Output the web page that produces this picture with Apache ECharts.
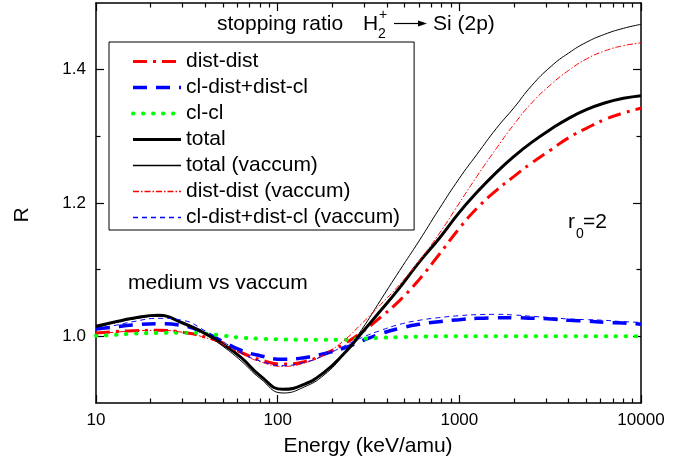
<!DOCTYPE html>
<html>
<head>
<meta charset="utf-8">
<script src="https://cdn.jsdelivr.net/npm/echarts@6/dist/echarts.min.js"></script>
<style>html,body{margin:0;padding:0;background:#fff;}#c{width:687px;height:468px;}</style>
</head>
<body>
<div id="c"></div>
<script>
// ---- data ----
const energy      = [10,12.5,16,22,30,40,50,63,80,107, 140,180,230,290,370,470,600,770, 1000,1250,1600,2000,2500,3200,4000,5000,6300,8000,10000];
const distDist    = [1.005,1.007,1.0085,1.009,1.006,0.999,0.990,0.976,0.965,0.9585, 0.962,0.973,0.988,1.006,1.029,1.054,1.085,1.122, 1.162,1.192,1.219,1.240,1.260,1.280,1.298,1.312,1.325,1.335,1.342];
const clDist      = [1.011,1.014,1.017,1.019,1.016,1.005,0.992,0.979,0.971,0.9655, 0.968,0.974,0.982,0.993,1.004,1.012,1.018,1.022, 1.025,1.027,1.0278,1.028,1.0272,1.026,1.024,1.023,1.021,1.020,1.018];
const clCl        = [1.001,1.002,1.004,1.005,1.0055,1.004,1.001,0.998,0.9965,0.9955, 0.995,0.995,0.995,0.9963,0.9978,0.9988,0.9995,1.0, 1.0,1.0,1.0,1.0,1.0,1.0,1.0,1.0,1.0,1.0,1.0];
const total       = [1.015,1.021,1.027,1.0315,1.020,1.004,0.988,0.968,0.941,0.9205, 0.928,0.946,0.973,1.005,1.039,1.073,1.111,1.146, 1.186,1.216,1.246,1.270,1.291,1.311,1.327,1.340,1.350,1.357,1.361];
const totalVac    = [1.013,1.020,1.026,1.030,1.021,1.003,0.985,0.963,0.937,0.915, 0.924,0.942,0.972,1.010,1.055,1.099,1.143,1.190, 1.237,1.273,1.312,1.343,1.376,1.405,1.425,1.441,1.453,1.462,1.468];
const distDistVac = [1.004,1.006,1.008,1.009,1.006,0.998,0.988,0.974,0.962,0.955, 0.960,0.973,0.993,1.019,1.048,1.078,1.113,1.153, 1.200,1.240,1.282,1.318,1.350,1.378,1.399,1.416,1.428,1.436,1.440];
const clDistVac   = [1.012,1.016,1.022,1.027,1.024,1.008,0.992,0.975,0.963,0.956, 0.961,0.971,0.985,0.998,1.009,1.018,1.024,1.028, 1.031,1.0325,1.033,1.032,1.030,1.028,1.026,1.025,1.024,1.022,1.021];

const xMinorTicks = [20,30,40,50,60,70,80,90,200,300,400,500,600,700,800,900,2000,3000,4000,5000,6000,7000,8000,9000];
const yMajorTicks = [1.0,1.2,1.4];
const yMinorTicks = [1.1,1.3];

const FONT = '"Liberation Sans", Arial, sans-serif';

function pairs(ys){ return energy.map((e,i)=>[e, ys[i]]); }

const seriesDefs = [
  {name:'dist-dist', data:distDist, color:'#ff0000', width:3, type:[14,6,3,6]},
  {name:'cl-dist+dist-cl', data:clDist, color:'#0000ff', width:3.5, type:[14,9]},
  {name:'cl-cl', data:clCl, color:'#00ff00', width:4, type:[0.5,9.5], cap:'round'},
  {name:'total', data:total, color:'#000000', width:3, type:'solid'},
  {name:'total (vaccum)', data:totalVac, color:'#000000', width:1, type:'solid'},
  {name:'dist-dist (vaccum)', data:distDistVac, color:'#ff0000', width:1, type:[6,2,1.5,2]},
  {name:'cl-dist+dist-cl (vaccum)', data:clDistVac, color:'#0000ff', width:1, type:[5,4]}
];

const chart = echarts.init(document.getElementById('c'), null, {renderer:'canvas'});

const axisLineStyle = {color:'#000', width:1.5};
const tickStyle = {color:'#000', width:1.2};
const xMinorLog = xMinorTicks.map(v=>Math.log10(v));

const option = {
  animation:false,
  grid: {left:96, top:3, width:545, height:400, containLabel:false},
  xAxis: [
    {type:'log', logBase:10, min:10, max:10000, position:'bottom',
     axisLine:{show:true, lineStyle:axisLineStyle},
     axisTick:{show:true, inside:true, length:8, lineStyle:tickStyle},
     axisLabel:{show:true, margin:9, fontSize:17, fontFamily:FONT, color:'#000', formatter:v=>String(Math.round(v))},
     splitLine:{show:false}, minorTick:{show:false}},
    {type:'value', min:1, max:4, position:'bottom',
     axisLine:{show:false},
     axisTick:{show:true, inside:true, length:4.5, lineStyle:tickStyle, customValues:xMinorLog},
     axisLabel:{show:false}, splitLine:{show:false}},
    {type:'log', logBase:10, min:10, max:10000, position:'top',
     axisLine:{show:true, lineStyle:axisLineStyle},
     axisTick:{show:true, inside:true, length:8, lineStyle:tickStyle},
     axisLabel:{show:false}, splitLine:{show:false}},
    {type:'value', min:1, max:4, position:'top',
     axisLine:{show:false},
     axisTick:{show:true, inside:true, length:4.5, lineStyle:tickStyle, customValues:xMinorLog},
     axisLabel:{show:false}, splitLine:{show:false}}
  ],
  yAxis: [
    {type:'value', min:0.9, max:1.5, position:'left',
     axisLine:{show:true, lineStyle:axisLineStyle},
     axisTick:{show:true, inside:true, length:8, lineStyle:tickStyle, customValues:yMajorTicks},
     axisLabel:{show:true, margin:10, fontSize:17, fontFamily:FONT, color:'#000', customValues:yMajorTicks, formatter:v=>v.toFixed(1)},
     splitLine:{show:false}},
    {type:'value', min:0.9, max:1.5, position:'left',
     axisLine:{show:false},
     axisTick:{show:true, inside:true, length:4.5, lineStyle:tickStyle, customValues:yMinorTicks},
     axisLabel:{show:false}, splitLine:{show:false}},
    {type:'value', min:0.9, max:1.5, position:'right',
     axisLine:{show:true, lineStyle:axisLineStyle},
     axisTick:{show:true, inside:true, length:8, lineStyle:tickStyle, customValues:yMajorTicks},
     axisLabel:{show:false}, splitLine:{show:false}},
    {type:'value', min:0.9, max:1.5, position:'right',
     axisLine:{show:false},
     axisTick:{show:true, inside:true, length:4.5, lineStyle:tickStyle, customValues:yMinorTicks},
     axisLabel:{show:false}, splitLine:{show:false}}
  ],
  legend: {
    show:true, orient:'vertical', left:109, top:42,
    padding:[9,14,2,22], itemGap:5, itemWidth:48, itemHeight:14,
    borderColor:'#000', borderWidth:1, backgroundColor:'#fff',
    itemStyle:{color:'rgba(0,0,0,0)', borderColor:'rgba(0,0,0,0)', borderWidth:0},
    textStyle:{fontSize:21, fontFamily:FONT, color:'#000'},
    data: seriesDefs.map(s=>({
      name:s.name,
      lineStyle:{color:s.color, width:(s.width < 2 ? 1.4 : s.width), type:s.type, cap:s.cap||'butt'}
    }))
  },
  series: seriesDefs.map(s=>({
    name:s.name, type:'line', xAxisIndex:0, yAxisIndex:0,
    data:pairs(s.data), smooth:0.5, showSymbol:false, symbol:'none',
    lineStyle:{color:s.color, width:s.width, type:s.type, cap:s.cap||'butt'},
    itemStyle:{color:s.color}
  })),
  graphic: [
    {type:'text', x:217, y:24, style:{text:'stopping ratio', font:'21px '+FONT, fill:'#000', align:'left', verticalAlign:'middle'}},
    {type:'text', x:363, y:24, style:{text:'H', font:'21px '+FONT, fill:'#000', align:'left', verticalAlign:'middle'}},
    {type:'text', x:378, y:34, style:{text:'2', font:'14px '+FONT, fill:'#000', align:'left', verticalAlign:'middle'}},
    {type:'text', x:379, y:15, style:{text:'+', font:'14px '+FONT, fill:'#000', align:'left', verticalAlign:'middle'}},
    {type:'line', shape:{x1:394, y1:23.5, x2:420, y2:23.5}, style:{stroke:'#000', lineWidth:1.2}},
    {type:'polygon', shape:{points:[[427,23.5],[418,20.5],[418,26.5]]}, style:{fill:'#000'}},
    {type:'text', x:433, y:24, style:{text:'Si (2p)', font:'21px '+FONT, fill:'#000', align:'left', verticalAlign:'middle'}},
    {type:'text', x:568, y:222, style:{text:'r', font:'21px '+FONT, fill:'#000', align:'left', verticalAlign:'middle'}},
    {type:'text', x:576, y:234, style:{text:'0', font:'14px '+FONT, fill:'#000', align:'left', verticalAlign:'middle'}},
    {type:'text', x:583, y:222, style:{text:'=2', font:'21px '+FONT, fill:'#000', align:'left', verticalAlign:'middle'}},
    {type:'text', x:128, y:283, style:{text:'medium vs vaccum', font:'21px '+FONT, fill:'#000', align:'left', verticalAlign:'middle'}},
    {type:'text', x:22, y:215, rotation:Math.PI/2, style:{text:'R', font:'21px '+FONT, fill:'#000', align:'center', verticalAlign:'middle'}},
    {type:'text', x:368, y:446, style:{text:'Energy (keV/amu)', font:'21px '+FONT, fill:'#000', align:'center', verticalAlign:'middle'}}
  ]
};
chart.setOption(option);
</script>
</body>
</html>
